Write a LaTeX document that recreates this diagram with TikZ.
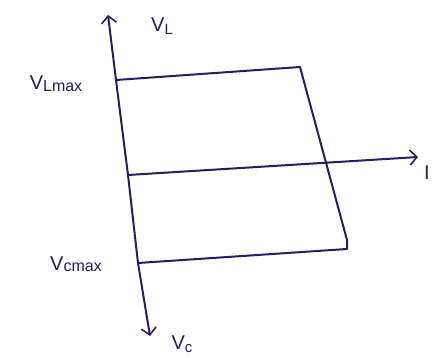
\documentclass[tikz,border=0pt]{standalone}
\usepackage{fontspec}
\setmainfont{Liberation Sans}
\usetikzlibrary{arrows.meta}
\definecolor{ink}{RGB}{35,30,95}
\begin{document}
\begin{tikzpicture}[x=1pt,y=-1pt,
  ink line/.style={draw=ink,line width=2pt,line join=round},
  axis arrow/.style={ink line,-{Straight Barb[length=7pt,width=15pt,line width=1.6pt]}},
  lbl/.style={text=ink,font=\fontsize{20}{22}\selectfont,inner sep=1pt},
  sub/.style={}]
\useasboundingbox (0,0) rectangle (439,358);
% axes points
\coordinate (vtop) at (108,15);
\coordinate (vbot) at (150,336);
\coordinate (vmid) at (128,175);
\coordinate (iend) at (418,157);
% quadrilateral corners
\coordinate (tl) at (116,80);
\coordinate (tr) at (300,67);
\coordinate (br) at (347,249);
\coordinate (brk) at (347,240);
\coordinate (bl) at (138,263);
% axes
\draw[axis arrow] (vmid) -- (tl) -- (vtop);
\draw[axis arrow] (vmid) -- (bl) -- (vbot);
\draw[axis arrow] (vmid) -- (iend);
% quadrilateral
\draw[ink line] (tl) -- (tr) -- (brk) -- (br) -- (bl);
% labels
\node[lbl] (lvl) at (162,26) {V\raisebox{-3pt}{\fontsize{15}{16}\selectfont L}};
\node[lbl] (lvlmax) at (56,84) {V\raisebox{-2pt}{\fontsize{16}{18}\selectfont Lmax}};
\node[lbl] (lvcmax) at (76,264) {V\raisebox{-1pt}{\fontsize{16}{18}\selectfont cmax}};
\node[lbl] (lvc) at (182,344) {V\raisebox{-3pt}{\fontsize{15}{16}\selectfont c}};
\node[lbl] (li) at (427,173) {I};
\end{tikzpicture}
\end{document}
